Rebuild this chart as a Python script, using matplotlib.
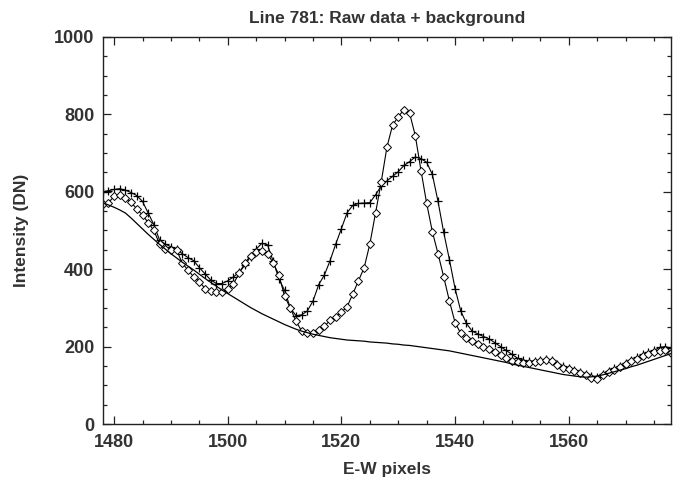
import numpy as np
import matplotlib
matplotlib.use("Agg")
import matplotlib.pyplot as plt
from matplotlib.ticker import MultipleLocator

# E-W pixel positions, one per sample
pixels = np.arange(1478, 1579)

# raw data, first profile (plus symbols)
raw_plus = [600, 603, 606, 608, 604, 598, 590, 575, 545, 515,
            475, 465, 458, 452, 440, 430, 422, 404, 388, 372,
            363, 363, 370, 380, 392, 410, 432, 452, 467, 463,
            420, 375, 345, 300, 280, 282, 292, 318, 360, 385,
            422, 465, 505, 546, 565, 570, 571, 572, 592, 615,
            628, 640, 652, 668, 678, 690, 686, 676, 645, 575,
            495, 425, 350, 292, 260, 240, 233, 226, 220, 210,
            200, 190, 180, 170, 165, 162, 163, 165, 168, 165,
            156, 149, 145, 140, 135, 129, 124, 121, 130, 138,
            144, 151, 158, 165, 172, 180, 185, 190, 198, 200,
            196]

# raw data, second profile (diamond symbols)
raw_diamond = [568, 572, 588, 592, 585, 573, 555, 540, 520, 500,
               465, 452, 450, 450, 415, 398, 380, 368, 350, 343,
               342, 342, 348, 362, 390, 415, 435, 445, 447, 440,
               416, 385, 330, 300, 266, 240, 234, 236, 244, 252,
               268, 277, 289, 303, 336, 370, 404, 465, 545, 625,
               715, 772, 794, 812, 803, 745, 655, 570, 497, 440,
               380, 318, 262, 234, 222, 214, 206, 200, 193, 185,
               178, 170, 164, 159, 157, 157, 160, 164, 165, 162,
               153, 146, 141, 137, 133, 126, 120, 116, 126, 134,
               140, 147, 155, 162, 168, 175, 180, 185, 189, 191,
               184]

# fitted background
background = [572, 566, 560, 553, 545, 532, 518, 504, 490, 477,
              464, 452, 440, 429, 418, 408, 398, 387, 376, 366,
              356, 346, 337, 328, 319, 310, 301, 293, 285, 278,
              271, 264, 257, 251, 245, 240, 236, 232, 229, 226,
              223, 221, 219, 217, 216, 215, 214, 212, 211, 210,
              209, 207, 206, 204, 203, 201, 199, 197, 195, 193,
              191, 189, 186, 183, 180, 177, 174, 171, 168, 165,
              162, 159, 155, 152, 149, 146, 143, 140, 137, 134,
              131, 128, 126, 124, 122, 121, 122, 124, 127, 131,
              135, 139, 143, 148, 152, 157, 162, 167, 172, 177,
              182]

plt.rcParams['font.family'] = ['Liberation Sans', 'DejaVu Sans']
txt = '#333333'

fig = plt.figure(figsize=(6.85, 4.79), dpi=100)
ax = fig.add_axes([0.150, 0.1148, 0.8296, 0.808])

ax.plot(pixels, raw_plus, color='black', lw=0.8, marker='+', ms=6, mew=0.9)
ax.plot(pixels, raw_diamond, color='black', lw=0.8, marker='D', ms=3.7,
        mfc='white', mec='black', mew=0.7)
ax.plot(pixels, background, color='black', lw=0.9)

ax.set_xlim(1478, 1578)
ax.set_ylim(0, 1000)
ax.xaxis.set_major_locator(MultipleLocator(20))
ax.xaxis.set_minor_locator(MultipleLocator(5))
ax.yaxis.set_major_locator(MultipleLocator(200))
ax.yaxis.set_minor_locator(MultipleLocator(50))
ax.tick_params(which='both', direction='in', top=True, right=True,
               width=0.9, color='#222222', labelsize=13, labelcolor=txt)
ax.tick_params(which='major', length=6)
ax.tick_params(which='minor', length=3.2)
ax.tick_params(axis='x', pad=7)
ax.tick_params(axis='y', pad=6)
for lbl in ax.get_xticklabels() + ax.get_yticklabels():
    lbl.set_fontweight('bold')
for sp in ax.spines.values():
    sp.set_linewidth(1.0)
    sp.set_color('#222222')

ax.set_title('Line 781: Raw data + background', fontsize=12.5,
             fontweight='bold', color=txt, pad=10)
ax.set_xlabel('E-W pixels', fontsize=12.5, fontweight='bold', color=txt,
              labelpad=8)
ax.set_ylabel('Intensity (DN)', fontsize=12.5, fontweight='bold', color=txt,
              labelpad=18)

fig.savefig('out.png', dpi=100)
